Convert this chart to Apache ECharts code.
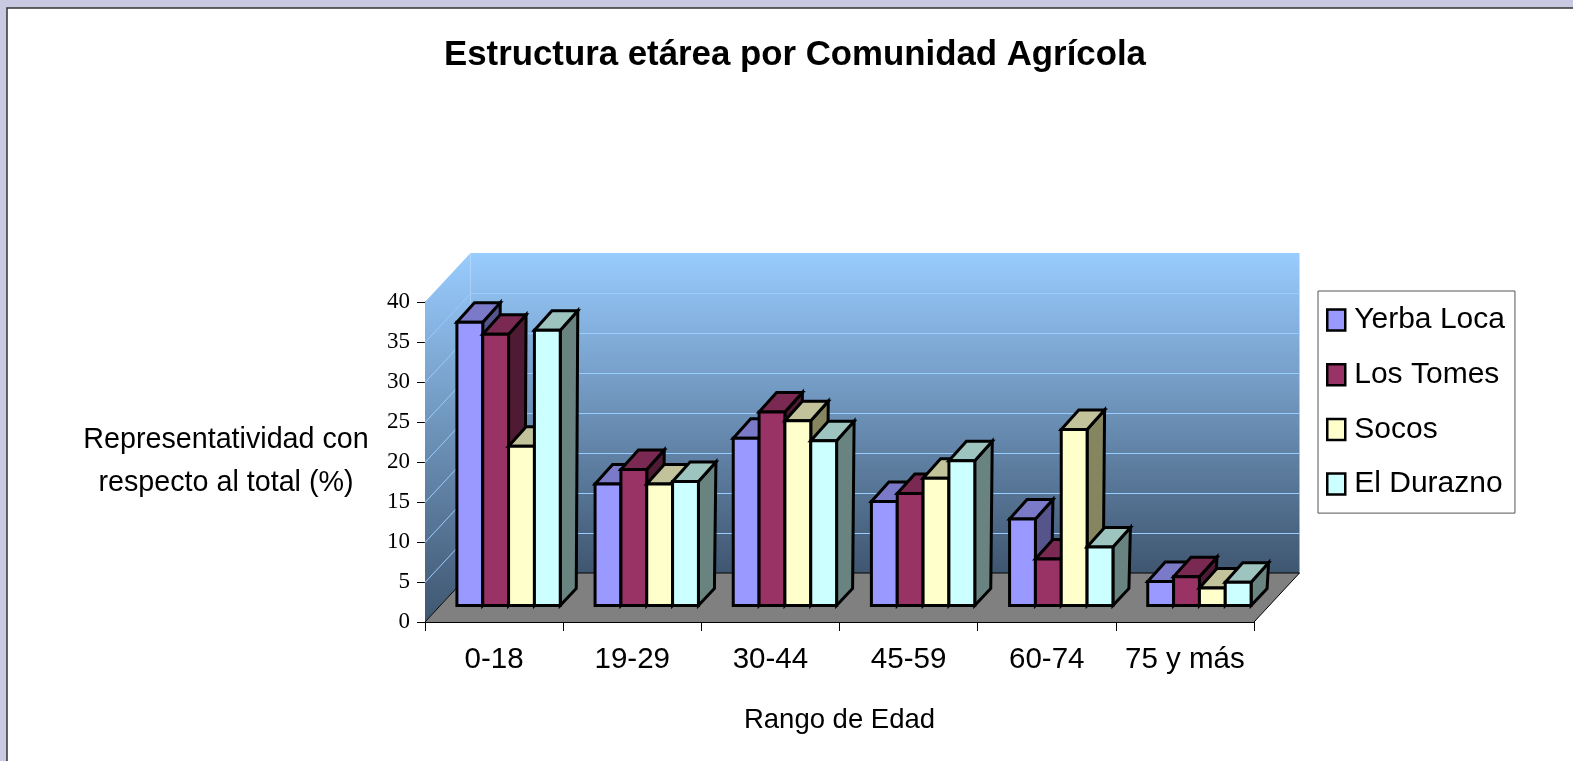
<!DOCTYPE html>
<html>
<head>
<meta charset="utf-8">
<style>html,body{margin:0;padding:0;background:#C9C9E1;overflow:hidden}#c{width:1573px;height:761px}</style>
<script src="https://cdn.jsdelivr.net/npm/echarts@6/dist/echarts.min.js"></script>
</head>
<body>
<div id="c"></div>
<script>
const titleText = 'Estructura etárea por Comunidad Agrícola';
const categories = ['0-18', '19-29', '30-44', '45-59', '60-74', '75 y más'];
const seriesNames = ['Yerba Loca', 'Los Tomes', 'Socos', 'El Durazno'];
const yerbaLoca = [35.4, 15.2, 20.9, 13.0, 10.8, 3.0];
const losTomes  = [33.9, 17.0, 24.2, 14.0, 5.8, 3.6];
const socos     = [19.9, 15.2, 23.1, 15.9, 22.0, 2.2];
const elDurazno = [34.4, 15.5, 20.6, 18.1, 7.3, 2.9];
const seriesValues = [yerbaLoca, losTomes, socos, elDurazno];
const frontColors = ['#9999FF', '#993366', '#FFFFCC', '#CCFFFF'];
const topColors   = ['#7A7AC8', '#7A2952', '#C2C29B', '#9EC4C0'];
const sideColors  = ['#55558C', '#4F1A33', '#85855F', '#688380'];

const chart = echarts.init(document.getElementById('c'), null, {renderer: 'canvas'});
const DX = 45.5, DY = 49;         // depth of the chart box
const BDX = 14.5, BDY = 16.5;     // where the bars stand in the depth
const TDX = 17.5, TDY = 19.5;     // depth of a bar at its top
const SDX = 16, SDY = 17;         // depth of a bar at its foot
const barRatio = 0.187;

function poly(points, fill, stroke, lw) {
  return {type: 'polygon', shape: {points: points},
    style: {fill: fill, stroke: stroke || 'none', lineWidth: lw || 0, lineJoin: 'miter'}};
}

function renderBox(params, api) {
  const cs = params.coordSys;
  const l = cs.x, r = cs.x + cs.width, t = cs.y, b = cs.y + cs.height;
  const grad = new echarts.graphic.LinearGradient(0, 0, 0, 1, [
    {offset: 0, color: '#99CCFF'}, {offset: 1, color: '#3F5670'}]);
  const gradL = new echarts.graphic.LinearGradient(0, 0, 0, 1, [
    {offset: 0, color: '#99CCFF'}, {offset: 1, color: '#3F5670'}]);
  const kids = [
    poly([[l, t], [l + DX, t - DY], [l + DX, b - DY], [l, b]], gradL),
    poly([[l + DX, t - DY], [r + DX, t - DY], [r + DX, b - DY], [l + DX, b - DY]], grad),
    poly([[l, b], [l + DX, b - DY], [r + DX, b - DY], [r, b]], '#808080')
  ];
  for (let v = 5; v < 40; v += 5) {
    const y = Math.round(api.coord([0, v])[1]) + 0.5;
    kids.push({type: 'polyline', shape: {points: [[l, y], [l + DX, y - DY], [r + DX, y - DY]]},
      style: {fill: 'none', stroke: '#99CCFF', lineWidth: 1}});
  }
  kids.push({type: 'polyline', shape: {points: [[l, b], [l + DX, b - DY], [r + DX, b - DY], [r, b]]},
    style: {fill: 'none', stroke: '#000', lineWidth: 1}});
  return {type: 'group', children: kids};
}

function renderBar(seriesIdx) {
  return function (params, api) {
    const c = api.coord([api.value(0), api.value(1)]);
    const base = api.coord([api.value(0), 0]);
    const band = api.size([1, 0])[0];
    const w = band * barRatio;
    const x0 = c[0] + BDX + (seriesIdx - 2) * w;
    const x1 = x0 + w;
    const yT = c[1] - BDY, yB = base[1] - BDY;
    const lw = 3, k = '#000';
    return {type: 'group', children: [
      poly([[x1, yT], [x1 + TDX, yT - TDY], [x1 + SDX, yB - SDY], [x1, yB]], sideColors[seriesIdx], k, lw),
      poly([[x0, yT], [x0 + TDX, yT - TDY], [x1 + TDX, yT - TDY], [x1, yT]], topColors[seriesIdx], k, lw),
      poly([[x0, yT], [x1, yT], [x1, yB], [x0, yB]], frontColors[seriesIdx], k, lw)
    ]};
  };
}

const series = [{
  type: 'custom', silent: true, legendHoverLink: false, clip: false, z: 1,
  renderItem: renderBox, data: [[0, 0]], encode: {x: 0, y: 1}
}];
seriesNames.forEach(function (name, i) {
  series.push({
    name: name, type: 'custom', clip: false, z: 2 + i,
    itemStyle: {color: frontColors[i]},
    renderItem: renderBar(i),
    encode: {x: 0, y: 1},
    data: seriesValues[i].map(function (v, k) { return [k, v]; })
  });
});

chart.setOption({
  animation: false,
  backgroundColor: 'transparent',
  graphic: [{type: 'rect', z: -10, shape: {x: 7, y: 8, width: 1600, height: 800},
    style: {fill: '#fff', stroke: '#333', lineWidth: 1.5}}],
  title: {text: titleText, left: 790, top: 33, textAlign: 'center',
    textStyle: {fontFamily: 'Liberation Sans', fontWeight: 'bold', fontSize: 34.8, color: '#000'}},
  legend: {
    orient: 'vertical', left: 1318, top: 291, padding: [14, 10, 14, 8],
    backgroundColor: '#fff', borderColor: '#555', borderWidth: 1, borderRadius: 0,
    itemWidth: 18, itemHeight: 21, itemGap: 24.7, icon: 'rect',
    itemStyle: {borderColor: '#000', borderWidth: 2.5},
    data: seriesNames,
    textStyle: {fontFamily: 'Liberation Sans', fontSize: 30, color: '#000', padding: [0, 0, 4, 4]}
  },
  grid: {left: 425, top: 302, width: 829, height: 320, outerBoundsMode: 'none', containLabel: false},
  xAxis: {
    type: 'category', data: categories,
    name: 'Rango de Edad', nameLocation: 'middle', nameGap: 84,
    nameTextStyle: {fontFamily: 'Liberation Sans', fontSize: 27.5, color: '#000'},
    axisLine: {show: true, lineStyle: {color: '#000', width: 1}},
    axisTick: {show: true, length: 9, lineStyle: {color: '#000', width: 1}, alignWithLabel: false},
    axisLabel: {interval: 0, fontFamily: 'Liberation Sans', fontSize: 29.5, color: '#000', margin: 23},
    splitLine: {show: false}
  },
  yAxis: {
    type: 'value', min: 0, max: 40, interval: 5,
    name: 'Representatividad con\nrespecto al total (%)', nameLocation: 'middle', nameRotate: 0, nameGap: 199,
    nameTextStyle: {fontFamily: 'Liberation Sans', fontSize: 28.7, color: '#000', lineHeight: 43, align: 'center', padding: [0, 0, 8, 0]},
    axisLine: {show: true, lineStyle: {color: '#000', width: 1}},
    axisTick: {show: true, length: 8, lineStyle: {color: '#000', width: 1}},
    axisLabel: {fontFamily: 'Liberation Serif', fontSize: 23, color: '#000', margin: 15},
    splitLine: {show: false}
  },
  series: series
});
</script>
</body>
</html>
